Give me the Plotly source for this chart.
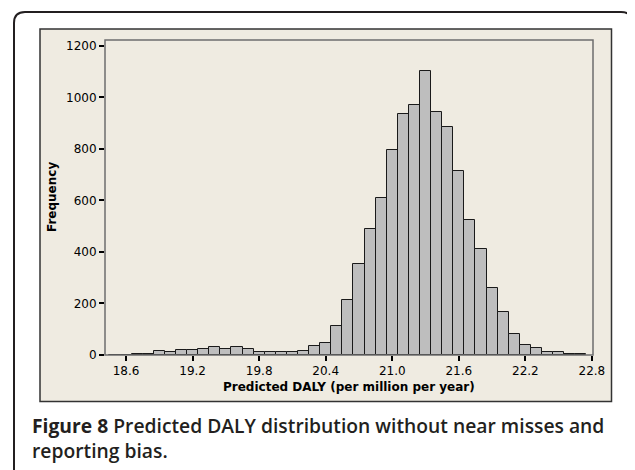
import plotly.graph_objects as go

# ---- data ----
bin_centers = [18.5, 18.6, 18.7, 18.8, 18.9, 19.0, 19.1, 19.2, 19.3, 19.4,
               19.5, 19.6, 19.7, 19.8, 19.9, 20.0, 20.1, 20.2, 20.3, 20.4,
               20.5, 20.6, 20.7, 20.8, 20.9, 21.0, 21.1, 21.2, 21.3, 21.4,
               21.5, 21.6, 21.7, 21.8, 21.9, 22.0, 22.1, 22.2, 22.3, 22.4,
               22.5, 22.6, 22.7]
frequency = [1, 1, 4, 4, 17, 13, 21, 21, 25, 30,
             25, 30, 25, 13, 13, 13, 13, 17, 36, 48,
             114, 212, 352, 489, 611, 796, 937, 970, 1103, 942,
             884, 716, 526, 413, 259, 166, 83, 37, 26, 13,
             10, 3, 3]
x_ticks = [18.6, 19.2, 19.8, 20.4, 21.0, 21.6, 22.2, 22.8]
x_tick_labels = ["18.6", "19.2", "19.8", "20.4", "21.0", "21.6", "22.2", "22.8"]
y_ticks = [0, 200, 400, 600, 800, 1000, 1200]
y_tick_labels = ["0", "200", "400", "600", "800", "1000", "1200"]
x_title = "Predicted DALY (per million per year)"
y_title = "Frequency"
caption = ("<b>Figure 8</b> Predicted DALY distribution without near misses and"
           "<br>reporting bias.")

# ---- layout geometry (page pixels; the page body has an 8px margin) ----
OFF = 8
W, H = 635, 470
L, R, T, B = 105 - OFF, 593 - OFF, 40 - OFF, 355 - OFF  # plot area edges in figure px


def px(xp):
    return (xp - OFF - L) / (R - L)


def py(yp):
    return (B - (yp - OFF)) / (B - T)


fig = go.Figure()
fig.add_trace(go.Bar(
    x=bin_centers, y=frequency, width=0.1,
    marker=dict(color="#BEBEBE", line=dict(color="#1a1a1a", width=1)),
    hoverinfo="x+y",
))

shapes = []
# outer rounded frame
x0, y0, x1, y1, r = 14, 12, 632, 490, 11
path = (f"M {px(x0)},{py(y1)} L {px(x0)},{py(y0 + r)} "
        f"Q {px(x0)},{py(y0)} {px(x0 + r)},{py(y0)} "
        f"L {px(x1 - r)},{py(y0)} Q {px(x1)},{py(y0)} {px(x1)},{py(y0 + r)} "
        f"L {px(x1)},{py(y1)}")
shapes.append(dict(type="path", xref="paper", yref="paper", path=path,
                   line=dict(color="#231f20", width=2), layer="below"))
# beige panel
shapes.append(dict(type="rect", xref="paper", yref="paper",
                   x0=px(40), x1=px(611.5), y0=py(401.5), y1=py(29),
                   fillcolor="#EFEBE1", line=dict(color="#333333", width=1.5),
                   layer="below"))
# plot area frame
shapes.append(dict(type="rect", xref="paper", yref="paper",
                   x0=0, x1=1, y0=0, y1=1,
                   line=dict(color="#6e6e6e", width=1.5), layer="above"))

annotations = [
    dict(text=x_title, xref="paper", yref="paper", x=px(349), y=py(387),
         showarrow=False, font=dict(family="DejaVu Sans", size=12, color="black",
                                    weight="bold"), xanchor="center", yanchor="middle"),
    dict(text=y_title, xref="paper", yref="paper", x=px(52), y=py(197),
         textangle=-90, showarrow=False,
         font=dict(family="DejaVu Sans", size=12, color="black", weight="bold"),
         xanchor="center", yanchor="middle"),
    dict(text=caption, xref="paper", yref="paper", x=px(30), y=py(438),
         showarrow=False, align="left", xanchor="left", yanchor="middle",
         font=dict(family="Open Sans", size=19.3, color="#231f20", weight=600)),
]

fig.update_layout(
    width=W, height=H,
    margin=dict(l=L, r=W - R, t=T, b=H - B, pad=0),
    paper_bgcolor="white", plot_bgcolor="white",
    bargap=0, showlegend=False,
    shapes=shapes, annotations=annotations,
    xaxis=dict(range=[18.41, 22.81], tickvals=x_ticks, ticktext=x_tick_labels,
               ticks="outside", ticklen=5, tickwidth=2, tickcolor="black",
               showgrid=False, zeroline=False, showline=False,
               tickfont=dict(family="DejaVu Sans", size=12, color="black")),
    yaxis=dict(range=[0, 1223], tickvals=y_ticks, ticktext=y_tick_labels,
               ticks="outside", ticklen=5, tickwidth=2, tickcolor="black",
               showgrid=False, zeroline=False, showline=False,
               tickfont=dict(family="DejaVu Sans", size=12, color="black")),
)

fig.write_html("out.html")
